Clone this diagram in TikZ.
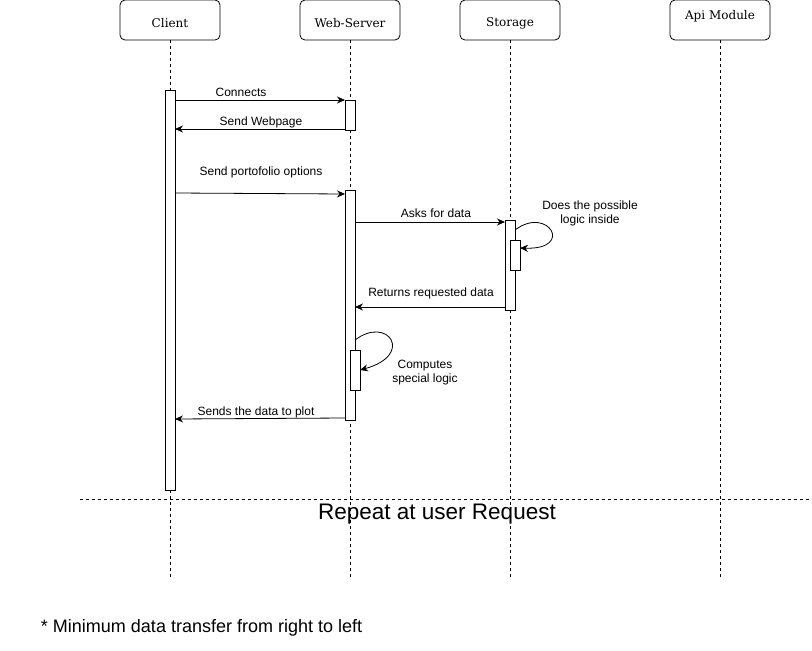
\documentclass[tikz,border=0pt]{standalone}
\usepackage{fontspec}
\setmainfont{DejaVu Serif}
\newfontfamily\lab{Liberation Sans}
\usetikzlibrary{arrows.meta,calc}
\begin{document}
\begin{tikzpicture}[x=1pt,y=-1pt,
  every node/.style={inner sep=0pt,outer sep=0pt},
  head/.style={draw,rounded corners=5pt,minimum width=100pt,minimum height=40pt,line width=0.8pt},
  headtxt/.style={font=\fontsize{12}{14}\selectfont},
  life/.style={line width=0.8pt,dash pattern=on 3pt off 3pt},
  act/.style={draw,fill=white,minimum width=10pt,line width=0.8pt},
  msg/.style={line width=0.8pt,-{Stealth[length=8pt,width=7pt]}},
  lbl/.style={font=\lab\fontsize{12}{14}\selectfont,align=center}]
\useasboundingbox (0,0) rectangle (812,651);
% headers
\node[head] (hc) at (170,20) {};
\node[head] (hw) at (350,20) {};
\node[head] (hs) at (510,20) {};
\node[head] (ha) at (720,20) {};
\node[headtxt] at (170,23) {Client};
\node[headtxt] at (350,23) {Web-Server};
\node[headtxt] at (510,23) {Storage};
\node[headtxt] at (720,16) {Api Module};
% lifelines
\coordinate (ec) at (170,577);
\coordinate (ew) at (350,577);
\coordinate (es) at (510,577);
\coordinate (ea) at (720,577);
\draw[life] (hc.south) -- (ec);
\draw[life] (hw.south) -- (ew);
\draw[life] (hs.south) -- (es);
\draw[life] (ha.south) -- (ea);
% activations
\node[act,minimum height=400pt] (ca) at (170,290) {};
\node[act,minimum height=30pt] (wa1) at (350,115) {};
\node[act,minimum height=230pt] (wa2) at (350,305) {};
\node[act,minimum height=40pt] (wi) at (355,370) {};
\node[act,minimum height=90pt] (sa) at (510,265) {};
\node[act,minimum height=30pt] (si) at (515,255) {};
% messages
\draw[msg] (ca.east |- wa1.north) -- (wa1.north west);
\node[lbl] at (241,92) {Connects};
\draw[msg] (wa1.west |- 0,129) -- (ca.east |- 0,129);
\node[lbl] at (261,122) {Send Webpage};
\draw[msg] (ca.east |- 0,193) -- (wa2.west |- 0,194);
\node[lbl] at (261,172) {Send portofolio options};
\draw[msg] (wa2.east |- 0,222) -- (sa.west |- 0,222);
\node[lbl] at (436,213) {Asks for data};
\draw[msg] (sa.east |- 0,230) .. controls (548,205) and (575,250) .. (si.east |- 0,248);
\node[lbl] at (590,213) {Does the possible\\logic inside};
\draw[msg] (sa.west |- 0,307) -- (wa2.east |- 0,307);
\node[lbl] at (431,293) {Returns requested data};
\draw[msg] (wa2.east |- 0,340) .. controls (388,315) and (415,355) .. (wi.east |- 0,370);
\node[lbl] at (425,373) {Computes\\special logic};
\draw[msg] (wa2.west |- 0,418) -- (ca.east |- 0,419);
\node[lbl] at (256,412) {Sends the data to plot};
% repeat
\coordinate (rl) at (80,499);
\coordinate (rr) at (812,499);
\draw[line width=0.8pt,dash pattern=on 3pt off 3pt] (rl) -- (rr);
\node[font=\lab\fontsize{22.5}{26}\selectfont] at (437,514) {Repeat at user Request};
\node[font=\lab\fontsize{18}{21}\selectfont,anchor=west] at (41,628) {* Minimum data transfer from right to left};
\end{tikzpicture}
\end{document}
